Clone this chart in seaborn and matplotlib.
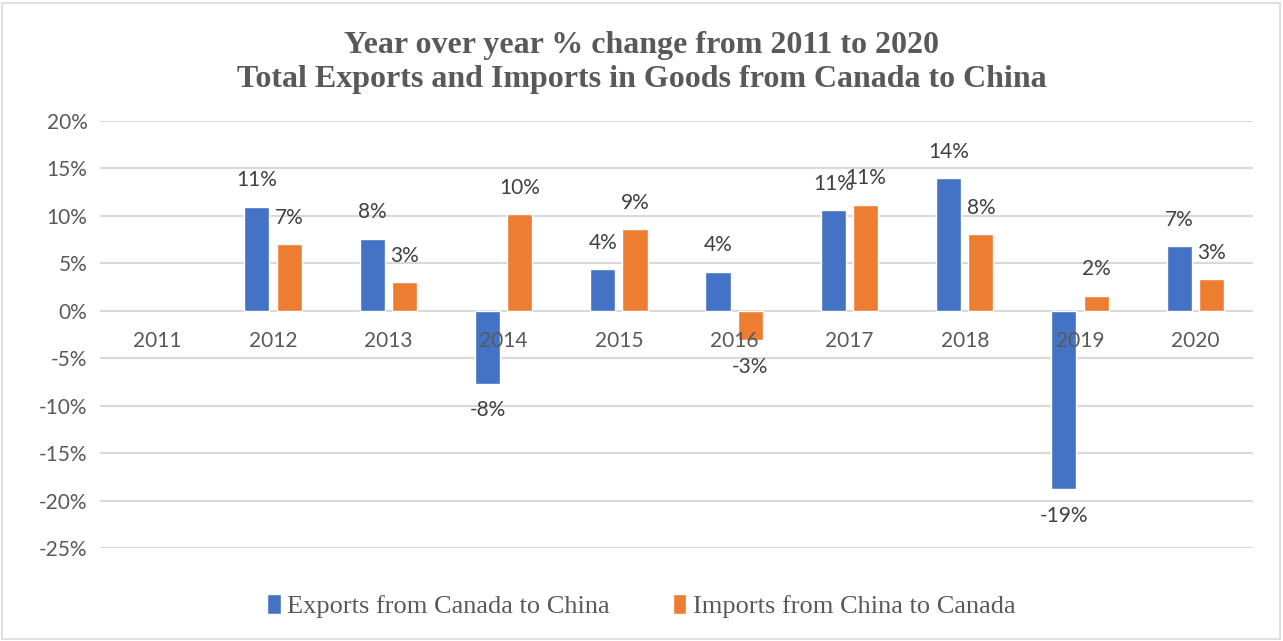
import numpy as np
import pandas as pd
import matplotlib
matplotlib.use("Agg")
import matplotlib.pyplot as plt
import seaborn as sns
from matplotlib.patches import Rectangle
from matplotlib.ticker import FuncFormatter, MultipleLocator

# Year-over-year % change in goods trade, Canada <-> China
years = ["2011", "2012", "2013", "2014", "2015", "2016", "2017", "2018", "2019", "2020"]
exports = [np.nan, 10.95, 7.6, -7.7, 4.4, 4.1, 10.6, 14.0, -18.8, 6.8]
imports = [np.nan, 7.0, 3.0, 10.2, 8.6, -3.1, 11.2, 8.1, 1.6, 3.3]
series_names = ["Exports from Canada to China", "Imports from China to Canada"]
colors = ["#4472C4", "#ED7D31"]

sns.set_theme(style="white")
plt.rcParams["font.family"] = ["Lato", "DejaVu Sans"]

df = pd.DataFrame({
    "Year": years * 2,
    "Change": exports + imports,
    "Series": [series_names[0]] * len(years) + [series_names[1]] * len(years),
})

W, H = 1283, 641
fig = plt.figure(figsize=(W / 100, H / 100), dpi=100)
fig.patch.set_facecolor("white")
ax = fig.add_axes([100 / W, 93 / H, 1153 / W, 427 / H])

sns.barplot(data=df, x="Year", y="Change", hue="Series", order=years,
            hue_order=series_names, palette=colors, saturation=1,
            width=0.56, gap=0.22, errorbar=None, ax=ax, zorder=2)

ax.set_ylim(-25, 20)
ax.yaxis.set_major_locator(MultipleLocator(5))
ax.yaxis.set_major_formatter(FuncFormatter(lambda v, _: f"{int(round(v))}%"))
ax.yaxis.grid(True, color="#d9d9d9", lw=1.5, zorder=0)
ax.set_axisbelow(True)
for s in ax.spines.values():
    s.set_visible(False)
ax.set_xlabel("")
ax.set_ylabel("")
ax.tick_params(axis="y", length=0, pad=9, labelsize=15, labelcolor="#595959")
ax.tick_params(axis="x", length=0, labelbottom=False)
ax.set_xlim(-0.5, len(years) - 0.5)

# Category labels sit just below the zero line
for xpos, lab in zip(ax.get_xticks(), years):
    ax.annotate(lab, xy=(xpos, 0), xytext=(0, -21.5), textcoords="offset points",
                ha="center", va="center", fontsize=15, color="#595959", zorder=5)

# Value labels beyond the end of each bar
for cont in ax.containers:
    for bar in cont:
        h = bar.get_height()
        if not np.isfinite(h) or h == 0:
            continue
        xc = bar.get_x() + bar.get_width() / 2
        off = 19 if h > 0 else -19
        ax.annotate(f"{h:.0f}%", xy=(xc, h), xytext=(0, off), textcoords="offset points",
                    ha="center", va="center", fontsize=15, color="#404040", zorder=5)

sns.move_legend(ax, loc="center", bbox_to_anchor=(0.5, 1 - 606 / H),
                bbox_transform=fig.transFigure, ncol=2, frameon=False, title=None,
                prop={"family": "Liberation Serif", "size": 19},
                labelcolor="#595959", handlelength=0.5, handleheight=0.8,
                handletextpad=0.25, columnspacing=2.4)

fig.text(0.5, 1 - 46 / H, "Year over year % change from 2011 to 2020",
         ha="center", va="center", fontfamily="Liberation Serif", fontweight="bold",
         fontsize=23, color="#595959")
fig.text(0.5, 1 - 80 / H, "Total Exports and Imports in Goods from Canada to China",
         ha="center", va="center", fontfamily="Liberation Serif", fontweight="bold",
         fontsize=23, color="#595959")

fig.add_artist(Rectangle((2 / W, 2 / H), 1278 / W, 636 / H, transform=fig.transFigure,
                         fill=False, edgecolor="#d9d9d9", lw=1.2))

fig.savefig("out.png", dpi=100)
